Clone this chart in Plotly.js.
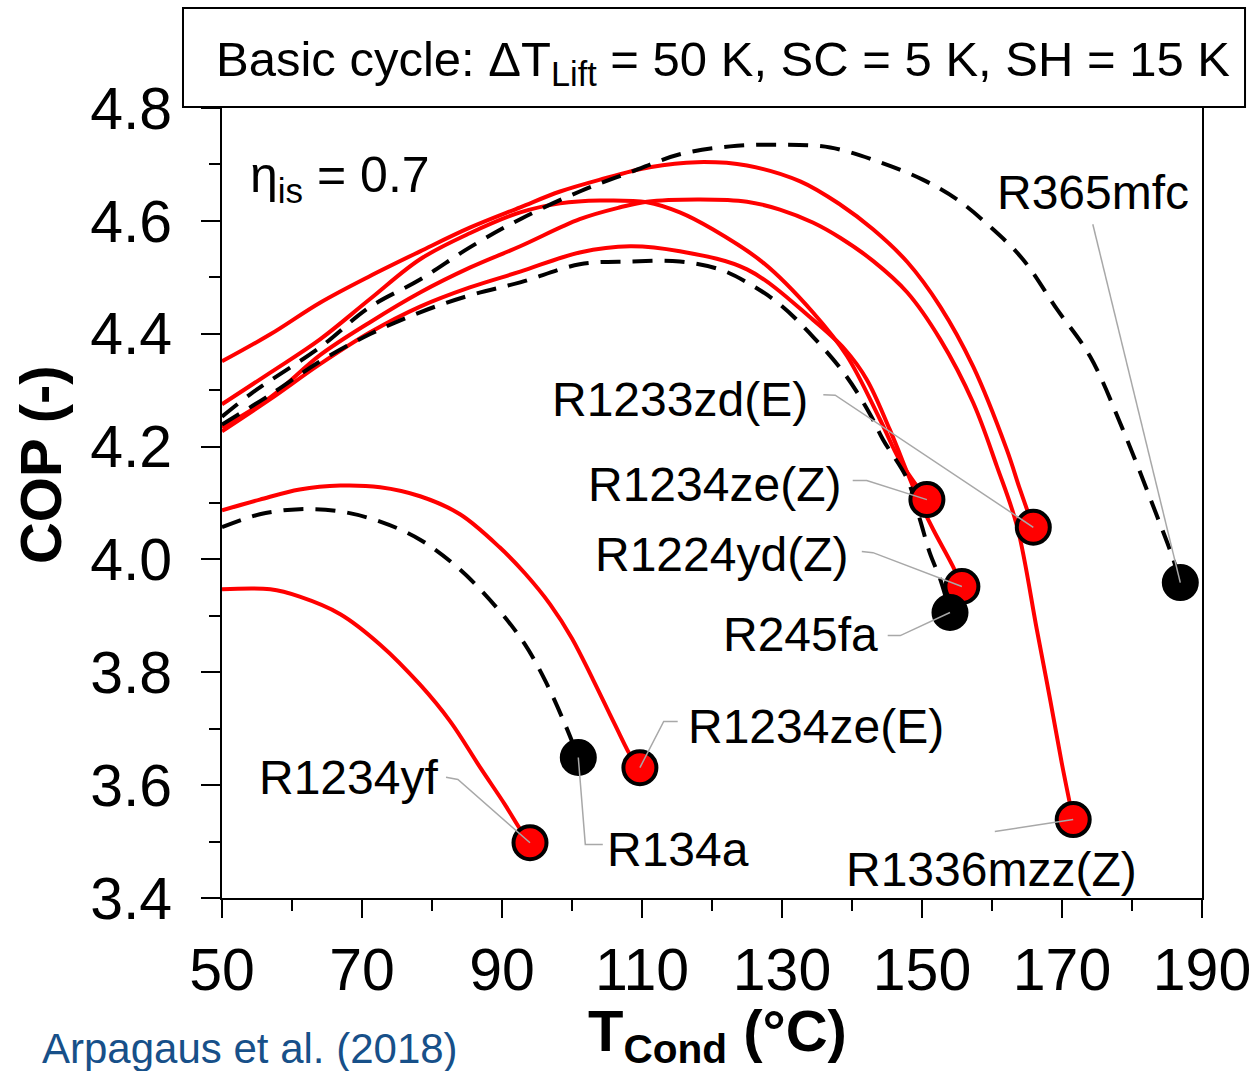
<!DOCTYPE html>
<html><head><meta charset="utf-8">
<script src="https://cdn.plot.ly/plotly-3.0.1.min.js"></script>
<style>html,body{margin:0;padding:0;background:#fff}#chart{width:1258px;height:1071px}</style>
</head><body><div id="chart"></div>
<script>
// T_Cond (°C) and COP (-)
const r1234yf_x = [50, 56.9, 61.1, 66.9, 72.6, 78.3, 82.6, 86.9, 90.4, 92.6, 94.0];
const r1234yf_y = [3.947, 3.947, 3.934, 3.903, 3.849, 3.778, 3.713, 3.631, 3.566, 3.522, 3.498];

const r134a_x = [50, 55.4, 61.1, 66.9, 72.6, 78.3, 84.0, 89.7, 93.3, 96.1, 99.0, 100.9];
const r134a_y = [4.057, 4.080, 4.089, 4.085, 4.067, 4.035, 3.982, 3.908, 3.849, 3.787, 3.708, 3.649];

const r1234zeE_x = [50, 55.4, 61.1, 66.9, 72.6, 78.3, 84.0, 89.7, 93.3, 96.9, 100.0, 103.0, 106.1, 108.6, 109.7];
const r1234zeE_y = [4.087, 4.106, 4.124, 4.131, 4.128, 4.112, 4.080, 4.021, 3.975, 3.920, 3.860, 3.787, 3.708, 3.647, 3.631];

const r1233zdE_x = [50, 56.9, 64.0, 71.1, 78.3, 85.4, 92.6, 98.3, 104.0, 111.1, 117.9, 125.0, 132.6, 138.3, 143.0, 147.9, 152.6, 157.3, 162.1, 164.0, 165.9];
const r1233zdE_y = [4.351, 4.399, 4.455, 4.502, 4.546, 4.588, 4.624, 4.652, 4.673, 4.695, 4.704, 4.698, 4.670, 4.629, 4.585, 4.527, 4.448, 4.342, 4.195, 4.124, 4.057];

const r1234zeZ_x = [50, 56.9, 64.0, 71.1, 78.3, 85.4, 92.6, 98.3, 104.0, 110.7, 115.4, 120.1, 127.3, 134.4, 139.3, 144.0, 146.9, 150.7];
const r1234zeZ_y = [4.275, 4.331, 4.390, 4.461, 4.532, 4.578, 4.615, 4.631, 4.636, 4.633, 4.615, 4.585, 4.526, 4.438, 4.360, 4.248, 4.174, 4.106];

const r1336mzzZ_x = [50, 56.9, 64.0, 71.1, 78.3, 85.4, 92.6, 101.1, 106.9, 110.7, 118.3, 125.0, 129.7, 134.4, 138.3, 143.0, 147.9, 152.6, 157.3, 160.7, 163.6, 166.4, 168.3, 170.0, 171.6];
const r1336mzzZ_y = [4.234, 4.287, 4.362, 4.420, 4.473, 4.517, 4.555, 4.603, 4.624, 4.634, 4.638, 4.634, 4.620, 4.597, 4.570, 4.529, 4.473, 4.390, 4.278, 4.165, 4.058, 3.876, 3.752, 3.637, 3.539];

const r1224ydZ_x = [50, 56.9, 64.0, 71.1, 78.3, 85.4, 92.6, 101.1, 108.3, 115.4, 125.0, 134.4, 139.0, 142.1, 145.4, 149.3, 151.6, 154.4, 155.7];
const r1224ydZ_y = [4.227, 4.284, 4.346, 4.402, 4.448, 4.482, 4.510, 4.544, 4.555, 4.546, 4.514, 4.425, 4.372, 4.319, 4.230, 4.112, 4.053, 3.988, 3.952];

const r245fa_x = [50, 56.9, 64.0, 71.1, 78.3, 85.4, 92.6, 101.1, 108.3, 115.4, 121.1, 125.0, 129.7, 134.4, 139.0, 142.6, 144.4, 147.9, 149.7, 151.1, 152.6, 154.0];
const r245fa_y = [4.239, 4.292, 4.351, 4.399, 4.438, 4.468, 4.491, 4.523, 4.528, 4.528, 4.514, 4.491, 4.452, 4.395, 4.328, 4.257, 4.213, 4.142, 4.071, 4.012, 3.965, 3.906];

const r365mfc_x = [50, 54.4, 64.0, 71.1, 78.3, 85.4, 92.6, 101.1, 108.3, 115.4, 122.6, 129.7, 136.9, 144.0, 150.1, 155.0, 159.7, 164.4, 169.3, 174.0, 178.7, 183.6, 185.9, 186.9];
const r365mfc_y = [4.253, 4.296, 4.376, 4.447, 4.496, 4.553, 4.603, 4.652, 4.686, 4.718, 4.732, 4.735, 4.730, 4.704, 4.673, 4.638, 4.590, 4.532, 4.443, 4.360, 4.230, 4.076, 4.000, 3.959];

// label text positions (axis units) and leader-line elbow points
const labelNames = ['R1234yf', 'R134a', 'R1234ze(E)', 'R1234ze(Z)', 'R1224yd(Z)', 'R245fa', 'R1233zd(E)', 'R1336mzz(Z)', 'R365mfc'];
const labelX = [68.1, 115.1, 134.9, 120.4, 121.4, 132.7, 115.4, 159.9, 174.4];
const labelY = [3.614, 3.486, 3.704, 4.133, 4.009, 3.867, 4.284, 3.451, 4.650];
const leaderPts = [
  [[82.0, 3.614], [83.7, 3.610]],
  [[104.4, 3.495], [101.9, 3.495]],
  [[115.1, 3.713], [113.1, 3.713]],
  [[140.1, 4.140], [142.1, 4.140]],
  [[141.4, 4.014], [143.0, 4.012]],
  [[145.1, 3.865], [146.9, 3.865]],
  [[135.9, 4.292], [137.6, 4.291]],
  [[160.4, 3.518]],
  [[174.4, 4.594]]
];

const RED = '#ff0000', BLACK = '#000000';
const series = {
  'R1234yf':     {x: r1234yf_x, y: r1234yf_y, c: RED, dashed: false},
  'R134a':       {x: r134a_x, y: r134a_y, c: BLACK, dashed: true},
  'R1234ze(E)':  {x: r1234zeE_x, y: r1234zeE_y, c: RED, dashed: false},
  'R1234ze(Z)':  {x: r1234zeZ_x, y: r1234zeZ_y, c: RED, dashed: false},
  'R1224yd(Z)':  {x: r1224ydZ_x, y: r1224ydZ_y, c: RED, dashed: false},
  'R245fa':      {x: r245fa_x, y: r245fa_y, c: BLACK, dashed: true},
  'R1233zd(E)':  {x: r1233zdE_x, y: r1233zdE_y, c: RED, dashed: false},
  'R1336mzz(Z)': {x: r1336mzzZ_x, y: r1336mzzZ_y, c: RED, dashed: false},
  'R365mfc':     {x: r365mfc_x, y: r365mfc_y, c: BLACK, dashed: true}
};

const FONT = 'Liberation Sans, Arial, Helvetica, sans-serif';
const traces = [];
const order = labelNames.filter(n => !series[n].dashed).concat(labelNames.filter(n => series[n].dashed));
order.forEach(n => {
  const s = series[n];
  traces.push({x: s.x, y: s.y, type: 'scatter', mode: 'lines', name: n, showlegend: false,
    hoverinfo: 'skip',
    line: {color: s.c, width: 4, shape: 'spline', smoothing: 1, dash: s.dashed ? '20px,12px' : 'solid'}});
});
traces.push({
  x: labelNames.map(n => series[n].x[series[n].x.length - 1]),
  y: labelNames.map(n => series[n].y[series[n].y.length - 1]),
  type: 'scatter', mode: 'markers', showlegend: false, text: labelNames,
  marker: {size: 33, color: labelNames.map(n => series[n].c), line: {color: BLACK, width: 4}}
});

const shapes = [{
  type: 'rect', xref: 'paper', yref: 'paper', x0: -0.0398, x1: 1.0439, y0: 1.0013, y1: 1.1266,
  line: {color: '#000', width: 2}, fillcolor: '#fff', layer: 'above'
}];
labelNames.forEach((n, i) => {
  const s = series[n];
  const pts = leaderPts[i].concat([[s.x[s.x.length - 1], s.y[s.y.length - 1]]]);
  const path = pts.map((p, j) => (j ? 'L' : 'M') + p[0] + ',' + p[1]).join(' ');
  shapes.push({type: 'path', xref: 'x', yref: 'y', path: path, line: {color: '#a8a8a8', width: 1.5}, layer: 'above'});
});

const annotations = labelNames.map((n, i) => ({
  x: labelX[i], y: labelY[i], xref: 'x', yref: 'y', text: n, showarrow: false,
  xanchor: 'center', yanchor: 'middle', font: {family: FONT, size: 48, color: '#000'}
}));
annotations.push(
  {xref: 'paper', yref: 'paper', x: 0.511, y: 1.058, text: 'Basic cycle: ΔT<sub>Lift</sub> = 50 K, SC = 5 K, SH = 15 K',
   showarrow: false, xanchor: 'center', yanchor: 'middle', font: {family: FONT, size: 49, color: '#000'}},
  {xref: 'paper', yref: 'paper', x: 0.0266, y: 0.911, text: 'η<sub>is</sub> = 0.7',
   showarrow: false, xanchor: 'left', yanchor: 'middle', font: {family: FONT, size: 50, color: '#000'}},
  {xref: 'paper', yref: 'paper', x: -0.1857, y: 0.548, text: '<b>COP (-)</b>', textangle: -90,
   showarrow: false, xanchor: 'center', yanchor: 'middle', font: {family: FONT, size: 58, color: '#000'}},
  {xref: 'paper', yref: 'paper', x: 0.506, y: -0.173, text: '<b>T<sub>Cond</sub> (°C)</b>',
   showarrow: false, xanchor: 'center', yanchor: 'middle', font: {family: FONT, size: 58, color: '#000'}},
  {xref: 'paper', yref: 'paper', x: -0.1857, y: -0.19, text: 'Arpagaus et al. (2018)',
   showarrow: false, xanchor: 'left', yanchor: 'middle', font: {family: FONT, size: 42, color: '#175089'}}
);

const layout = {
  width: 1258, height: 1071,
  margin: {l: 222, r: 56, t: 108, b: 173},
  paper_bgcolor: '#fff', plot_bgcolor: '#fff',
  showlegend: false,
  xaxis: {
    range: [50, 190], tick0: 50, dtick: 20, ticks: 'outside', ticklen: 18, tickwidth: 2, tickcolor: '#000',
    showline: true, linecolor: '#000', linewidth: 2, mirror: true, showgrid: false, zeroline: false,
    tickfont: {family: FONT, size: 59, color: '#000'}, ticklabelstandoff: 1,
    minor: {dtick: 10, ticks: 'outside', ticklen: 11, tickwidth: 2, tickcolor: '#000', showgrid: false}
  },
  yaxis: {
    range: [3.4, 4.8], tick0: 3.4, dtick: 0.2, tickformat: '.1f', ticks: 'outside', ticklen: 19, tickwidth: 2, tickcolor: '#000',
    showline: true, linecolor: '#000', linewidth: 2, mirror: true, showgrid: false, zeroline: false,
    tickfont: {family: FONT, size: 59, color: '#000'}, ticklabelstandoff: 17,
    minor: {dtick: 0.1, ticks: 'outside', ticklen: 11, tickwidth: 2, tickcolor: '#000', showgrid: false}
  },
  shapes: shapes,
  annotations: annotations
};

Plotly.newPlot('chart', traces, layout, {displayModeBar: false, staticPlot: true});
</script>
</body></html>
